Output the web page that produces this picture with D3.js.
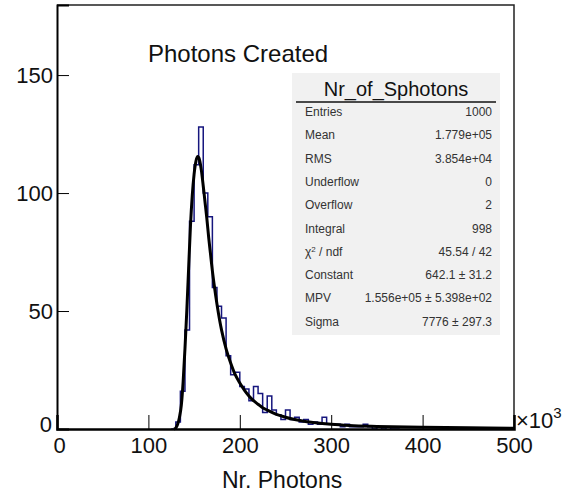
<!DOCTYPE html>
<html>
<head>
<meta charset="utf-8">
<script src="https://cdn.jsdelivr.net/npm/d3@7"></script>
<style>
  html, body { margin: 0; padding: 0; background: #fff; }
  svg { display: block; font-family: "Liberation Sans", Arial, Helvetica, sans-serif; }
</style>
</head>
<body>
<svg id="chart" width="578" height="498"></svg>
<script>
// ---- data (x in units of 10^3 photons) ----
const binWidth = 5;
const binStarts = [125,130,135,140,145,150,155,160,165,170,175,180,185,190,195,200,205,210,215,220,225,230,235,240,245,250,255,260,265,270,275,280,285,290,295,300,305,310,315,320,325,330,335,340,345,350,355,360,365,370];
const binCounts = [0,3,16,42,88,112,128,100,90,60,52,47,31,23,24,18,17,12,18,15,7,14,8,6,4,8,4,5,3,4,2,3,2,5,2,2,2,1,2,1,1,1,2,1,0,1,0,1,0,0];
const fitX = [128,130,132,134,136,138,140,142,144,146,148,150,152,154,156,158,160,162,164,166,168,170,172,175,178,180,185,190,195,200,205,210,215,220,225,230,240,250,260,270,280,300,320,350,400,450,500];
const fitY = [0,0.5,2,5,10,20,34,50,68,86,99,108,113.5,115.5,114,109.5,103,96,89,81,74,67,61,53,46,42,34,28,23,19.5,16.5,14,12,10.5,9,8,6.2,5,4,3.3,2.8,2,1.5,1.1,0.7,0.5,0.35];
const xTicks = [0,100,200,300,400,500];
const yTicks = [0,50,100,150];
const title = "Photons Created";
const xTitle = "Nr. Photons";
const statsTitle = "Nr_of_Sphotons";
const statsLabels = ["Entries","Mean","RMS","Underflow","Overflow","Integral","χ2 / ndf","Constant","MPV","Sigma"];
const statsValues = ["1000","1.779e+05","3.854e+04","0","2","998","45.54 / 42","642.1 ± 31.2","1.556e+05 ± 5.398e+02","7776 ± 297.3"];

// ---- layout ----
const svg = d3.select("#chart");
const L = 57, R = 514, T = 5, B = 429;
const x = d3.scaleLinear().domain([0, 500]).range([L, R]);
const y = d3.scaleLinear().domain([0, 179.7]).range([B, T]);

// frame top/right
svg.append("path")
  .attr("d", `M${L},${T}H${R}V${B}`)
  .attr("fill", "none").attr("stroke", "#222").attr("stroke-width", 1.5);

// histogram step outline
const pts = [];
pts.push([x(binStarts[0]), y(0)]);
binStarts.forEach((s, i) => {
  pts.push([x(s), y(binCounts[i])]);
  pts.push([x(s + binWidth), y(binCounts[i])]);
});
pts.push([x(binStarts[binStarts.length-1] + binWidth), y(0)]);
svg.append("path")
  .attr("d", d3.line()(pts))
  .attr("fill", "none").attr("stroke", "#16167e").attr("stroke-width", 1.5);

// fit curve
svg.append("path")
  .datum(fitX.map((v, i) => [v, fitY[i]]))
  .attr("d", d3.line().x(d => x(d[0])).y(d => y(d[1])).curve(d3.curveMonotoneX))
  .attr("fill", "none").attr("stroke", "#000").attr("stroke-width", 3);

// axes
const xAxis = d3.axisBottom(x).tickValues(xTicks).tickSize(-14).tickPadding(24).tickFormat(d3.format("d"));
const gx = svg.append("g").attr("transform", `translate(0,${B})`).call(xAxis);
gx.select(".domain").attr("stroke", "#000").attr("stroke-width", 2.5);
gx.selectAll(".tick line").attr("stroke", "#000").attr("stroke-width", 1);
gx.selectAll(".tick text").attr("font-size", 22).attr("fill", "#111").attr("dy", "0");
gx.selectAll(".tick").filter(d => d === 500 || d === 0).select("line").remove();
gx.selectAll(".tick").filter(d => d === 0).select("text").attr("dx", "2");

const yAxis = d3.axisLeft(y).tickValues(yTicks).tickSize(-12).tickPadding(4).tickFormat(d3.format("d"));
const gy = svg.append("g").attr("transform", `translate(${L},0)`).call(yAxis);
gy.select(".domain").attr("stroke", "#000").attr("stroke-width", 2);
gy.selectAll(".tick line").attr("stroke", "#000").attr("stroke-width", 1);
gy.selectAll(".tick text").attr("font-size", 22).attr("fill", "#111").attr("dy", "0.35em");
gy.selectAll(".tick").filter(d => d === 0).select("text").attr("dy", "0.1em").attr("dx", "-1");
gy.selectAll(".tick").filter(d => d === 0).select("line").remove();

// x10^3
const ex = svg.append("text").attr("x", 516).attr("y", 428).attr("font-size", 22).attr("fill", "#111");
ex.append("tspan").text("×10");
ex.append("tspan").attr("font-size", 15).attr("dy", -10).text("3");

// axis title
svg.append("text").attr("x", 222).attr("y", 488)
  .attr("font-size", 23).attr("fill", "#111").text(xTitle);

// title
svg.append("text").attr("x", 148).attr("y", 62).attr("font-size", 24).attr("fill", "#111").text(title);

// stats box
const bx = 292, bw = 208, by = 73, bh = 262;
svg.append("rect").attr("x", bx).attr("y", by).attr("width", bw).attr("height", bh).attr("fill", "#f1f1f1");
svg.append("text").attr("x", bx + bw/2).attr("y", 96).attr("text-anchor", "middle")
  .attr("font-size", 20).attr("fill", "#111").text(statsTitle);
svg.append("line").attr("x1", bx + 4).attr("x2", bx + bw - 4).attr("y1", 102).attr("y2", 102)
  .attr("stroke", "#111").attr("stroke-width", 1.5);
const rowY = i => 116 + i * 23.3;
statsLabels.forEach((lab, i) => {
  const t = svg.append("text").attr("x", 305).attr("y", rowY(i)).attr("font-size", 12).attr("fill", "#333");
  if (lab.startsWith("χ2")) {
    t.append("tspan").text("χ");
    t.append("tspan").attr("font-size", 8).attr("dy", -4).text("2");
    t.append("tspan").attr("dy", 4).text(" / ndf");
  } else t.text(lab);
  svg.append("text").attr("x", 492).attr("y", rowY(i)).attr("text-anchor", "end")
    .attr("font-size", 12).attr("fill", "#333").text(statsValues[i]);
});
</script>
</body>
</html>
